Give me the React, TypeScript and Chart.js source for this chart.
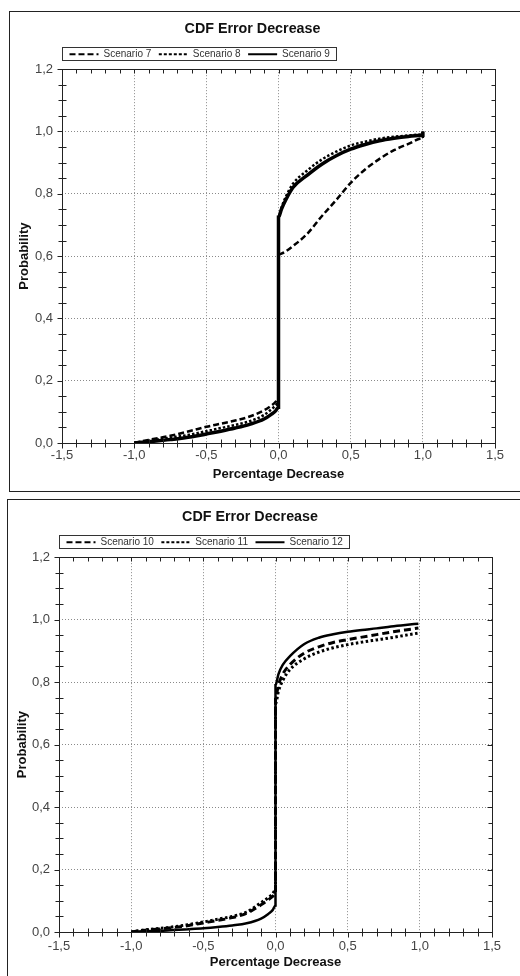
import React, { useEffect, useRef } from 'react';
import { Chart, registerables } from 'chart.js';

Chart.register(...registerables);

const FONT = '"Liberation Sans", Arial, Helvetica, sans-serif';

const TITLE = 'CDF Error Decrease';
const X_TITLE = 'Percentage Decrease';
const Y_TITLE = 'Probability';

const X_MIN = -1.5;
const X_MAX = 1.5;
const X_STEP = 0.5;
const X_MINOR = 0.1;
const Y_MIN = 0;
const Y_MAX = 1.2;
const Y_STEP = 0.2;
const Y_MINOR = 0.05;

// ---- Top panel: scenarios 7, 8, 9 ----
const topLabels = ['Scenario 7', 'Scenario 8', 'Scenario 9'];
const topX = [-1, -0.9, -0.75, -0.6, -0.5, -0.4, -0.3, -0.2, -0.1, -0.05, -0.02, 0,
  0, 0.02, 0.05, 0.1, 0.2, 0.3, 0.4, 0.5, 0.6, 0.7, 0.8, 0.9, 1, 1];
const scenario7 = [0, 0.01, 0.023, 0.04, 0.052, 0.062, 0.072, 0.085, 0.105, 0.12, 0.132, 0.145,
  0.605, 0.608, 0.615, 0.632, 0.672, 0.728, 0.78, 0.835, 0.878, 0.912, 0.94, 0.96, 0.978, 1.0];
const scenario8 = [0, 0.007, 0.017, 0.028, 0.038, 0.048, 0.058, 0.07, 0.09, 0.108, 0.12, 0.13,
  0.725, 0.755, 0.79, 0.832, 0.875, 0.91, 0.935, 0.955, 0.967, 0.977, 0.983, 0.987, 0.99, 1.0];
const scenario9 = [0, 0.004, 0.011, 0.02, 0.029, 0.038, 0.048, 0.06, 0.077, 0.092, 0.103, 0.115,
  0.725, 0.75, 0.78, 0.82, 0.86, 0.895, 0.922, 0.943, 0.958, 0.97, 0.978, 0.984, 0.988, 1.0];

// ---- Bottom panel: scenarios 10, 11, 12 ----
const bottomLabels = ['Scenario 10', 'Scenario 11', 'Scenario 12'];
const bottomX = [-1, -0.9, -0.75, -0.6, -0.5, -0.4, -0.3, -0.2, -0.1, -0.05, -0.02, 0,
  0, 0.02, 0.05, 0.1, 0.2, 0.3, 0.4, 0.5, 0.6, 0.7, 0.8, 0.9, 0.99];
const scenario10 = [0, 0.006, 0.012, 0.021, 0.029, 0.037, 0.046, 0.06, 0.087, 0.103, 0.114, 0.124,
  0.75, 0.79, 0.825, 0.856, 0.893, 0.913, 0.927, 0.936, 0.944, 0.952, 0.96, 0.967, 0.973];
const scenario11 = [0, 0.007, 0.014, 0.024, 0.032, 0.041, 0.05, 0.064, 0.094, 0.11, 0.122, 0.135,
  0.73, 0.77, 0.805, 0.84, 0.875, 0.896, 0.91, 0.92, 0.928, 0.935, 0.942, 0.95, 0.957];
const scenario12 = [0, 0.003, 0.005, 0.009, 0.012, 0.016, 0.021, 0.028, 0.043, 0.058, 0.07, 0.085,
  0.79, 0.825, 0.855, 0.883, 0.922, 0.942, 0.953, 0.961, 0.967, 0.972, 0.978, 0.983, 0.987];

const fmt = (v: any) => Number(v).toFixed(1).replace('.', ',');

const line = (ctx: any, x1: number, y1: number, x2: number, y2: number) => {
  ctx.beginPath();
  ctx.moveTo(x1, y1);
  ctx.lineTo(x2, y2);
  ctx.stroke();
};

const frameTicks = {
  id: 'frameTicks',
  afterDraw(chart: any) {
    const { ctx, chartArea: a } = chart;
    const xs = chart.scales.x;
    const ys = chart.scales.y;
    const L = Math.round(a.left) + 0.5;
    const R = Math.round(a.right) + 0.5;
    const T = Math.round(a.top) + 0.5;
    const B = Math.round(a.bottom) + 0.5;
    ctx.save();
    ctx.setLineDash([]);
    ctx.strokeStyle = '#222';
    ctx.lineWidth = 1;
    ctx.strokeRect(L, T, R - L, B - T);
    const nx = Math.round((X_MAX - X_MIN) / X_MINOR);
    const perMajorX = Math.round(X_STEP / X_MINOR);
    for (let i = 0; i <= nx; i++) {
      const v = X_MIN + i * X_MINOR;
      const px = Math.round(xs.getPixelForValue(v)) + 0.5;
      const major = i % perMajorX === 0;
      if (major) line(ctx, px, B, px, B + 5);
      else line(ctx, px, B - 4, px, B + 4);
      line(ctx, px, T, px, T + 4);
    }
    const ny = Math.round((Y_MAX - Y_MIN) / Y_MINOR);
    const perMajorY = Math.round(Y_STEP / Y_MINOR);
    for (let i = 0; i <= ny; i++) {
      const v = Y_MIN + i * Y_MINOR;
      const py = Math.round(ys.getPixelForValue(v)) + 0.5;
      const major = i % perMajorY === 0;
      if (major) {
        line(ctx, L - 5, py, L, py);
        line(ctx, R - 5, py, R, py);
      } else {
        line(ctx, L - 4, py, L + 4, py);
        line(ctx, R - 4, py, R, py);
      }
    }
    ctx.restore();
  },
};

const legendFrame = {
  id: 'legendFrame',
  afterDraw(chart: any) {
    const lg = chart.legend;
    if (!lg || !lg.legendHitBoxes || !lg.legendHitBoxes.length) return;
    const hb = lg.legendHitBoxes;
    const first = hb[0];
    const last = hb[hb.length - 1];
    const cy = first.top + first.height / 2;
    const ctx = chart.ctx;
    ctx.save();
    ctx.setLineDash([]);
    ctx.strokeStyle = '#333';
    ctx.lineWidth = 1;
    const l = Math.round(lg.left) + 0.5;
    const r = Math.round(last.left + last.width + 6) + 0.5;
    const t = Math.round(cy - 7) + 0.5;
    const b = Math.round(cy + 6) + 0.5;
    ctx.strokeRect(l, t, r - l, b - t);
    ctx.restore();
  },
};

type Style = { w: number; dash: number[]; legendDash: number[] };

type PanelProps = {
  xs: number[];
  series: number[][];
  labels: string[];
  styles: Style[];
  width: number;
  height: number;
  padRight: number;
  yAxisW: number;
  xAxisH: number;
  xTickPad: number;
  xTitlePad: number;
};

function CdfPanel(p: PanelProps) {
  const ref = useRef<HTMLCanvasElement>(null);
  useEffect(() => {
    const canvas = ref.current as HTMLCanvasElement;
    const isEdge = (v: number, a: number, b: number) => Math.abs(v - a) < 1e-6 || Math.abs(v - b) < 1e-6;
    const chart = new Chart(canvas, {
      type: 'line',
      data: {
        datasets: p.labels.map((label, k) => ({
          label,
          data: p.xs.map((x, i) => ({ x, y: p.series[k][i] })),
          borderColor: '#000',
          backgroundColor: '#000',
          borderWidth: p.styles[k].w,
          borderDash: p.styles[k].dash,
          borderCapStyle: 'butt',
          pointRadius: 0,
          pointHoverRadius: 0,
          pointStyle: 'line',
          fill: false,
          cubicInterpolationMode: 'monotone',
        })),
      },
      options: {
        responsive: false,
        maintainAspectRatio: false,
        animation: false,
        events: [],
        layout: { padding: { left: 0, right: p.padRight, top: 0, bottom: 0 } },
        plugins: {
          title: {
            display: true,
            text: TITLE,
            color: '#111',
            font: { family: FONT, size: 14.3, weight: 'bold' },
            padding: { top: 8.5, bottom: 4 },
          },
          legend: {
            display: true,
            position: 'top',
            align: 'start',
            fullSize: false,
            labels: {
              usePointStyle: true,
              pointStyle: 'line',
              pointStyleWidth: 29,
              padding: 7.5,
              color: '#333',
              font: { family: FONT, size: 10 },
              generateLabels: (c: any) =>
                (Chart.defaults.plugins.legend.labels as any)
                  .generateLabels(c)
                  .map((l: any) => ({
                    ...l,
                    lineWidth: 2,
                    strokeStyle: '#000',
                    fontColor: '#333',
                    lineCap: 'butt',
                    lineDash: p.styles[l.datasetIndex].legendDash,
                  })),
            },
          },
          tooltip: { enabled: false },
        },
        scales: {
          x: {
            type: 'linear',
            min: X_MIN,
            max: X_MAX,
            afterFit: (s: any) => { s.height = p.xAxisH; },
            ticks: {
              stepSize: X_STEP,
              color: '#444',
              padding: p.xTickPad,
              maxRotation: 0,
              autoSkip: false,
              font: { family: FONT, size: 13 },
              callback: (v: any) => fmt(v),
            },
            grid: {
              drawTicks: false,
              lineWidth: 1,
              color: (ctx: any) => (ctx.tick && isEdge(ctx.tick.value, X_MIN, X_MAX) ? 'rgba(0,0,0,0)' : '#8a8a8a'),
            },
            border: { display: false, dash: [1, 2] },
            title: {
              display: true,
              text: X_TITLE,
              color: '#111',
              font: { family: FONT, size: 13, weight: 'bold' },
              padding: { top: 0, bottom: p.xTitlePad },
            },
          },
          y: {
            type: 'linear',
            min: Y_MIN,
            max: Y_MAX,
            afterFit: (s: any) => { s.width = p.yAxisW; },
            ticks: {
              stepSize: Y_STEP,
              color: '#444',
              padding: 9,
              font: { family: FONT, size: 13 },
              callback: (v: any) => fmt(v),
            },
            grid: {
              drawTicks: false,
              lineWidth: 1,
              color: (ctx: any) => (ctx.tick && isEdge(ctx.tick.value, Y_MIN, Y_MAX) ? 'rgba(0,0,0,0)' : '#8a8a8a'),
            },
            border: { display: false, dash: [1, 2] },
            title: {
              display: true,
              text: Y_TITLE,
              color: '#111',
              font: { family: FONT, size: 13, weight: 'bold' },
              padding: { top: 7, bottom: 0 },
            },
          },
        },
      } as any,
      plugins: [frameTicks, legendFrame],
    } as any);
    return () => chart.destroy();
  }, []);
  return (
    <canvas
      ref={ref}
      width={p.width}
      height={p.height}
      style={{ display: 'block', width: p.width, height: p.height }}
    />
  );
}

const topStyles: Style[] = [
  { w: 2.5, dash: [6, 3], legendDash: [6, 3] },
  { w: 2.5, dash: [2.5, 2], legendDash: [3, 2] },
  { w: 3.5, dash: [], legendDash: [] },
];
const bottomStyles: Style[] = [
  { w: 3, dash: [7, 4], legendDash: [6, 3] },
  { w: 3, dash: [2.5, 2.5], legendDash: [3, 2] },
  { w: 2.5, dash: [], legendDash: [] },
];

export default function App() {
  return (
    <div style={{ position: 'absolute', left: 0, top: 0, width: 520, height: 976, overflow: 'hidden', background: '#fff' }}>
      <div
        style={{
          position: 'absolute', left: 9, top: 11, width: 530, height: 479,
          borderTop: '1px solid #222', borderLeft: '1px solid #222', borderBottom: '1px solid #222',
        }}
      >
        <CdfPanel
          xs={topX}
          series={[scenario7, scenario8, scenario9]}
          labels={topLabels}
          styles={topStyles}
          width={510}
          height={479}
          padRight={25}
          yAxisW={52}
          xAxisH={48}
          xTickPad={5}
          xTitlePad={9}
        />
      </div>
      <div
        style={{
          position: 'absolute', left: 7, top: 499, width: 530, height: 490,
          borderTop: '1px solid #222', borderLeft: '1px solid #222',
        }}
      >
        <CdfPanel
          xs={bottomX}
          series={[scenario10, scenario11, scenario12]}
          labels={bottomLabels}
          styles={bottomStyles}
          width={512}
          height={476}
          padRight={28}
          yAxisW={51}
          xAxisH={44}
          xTickPad={7}
          xTitlePad={6}
        />
      </div>
    </div>
  );
}
